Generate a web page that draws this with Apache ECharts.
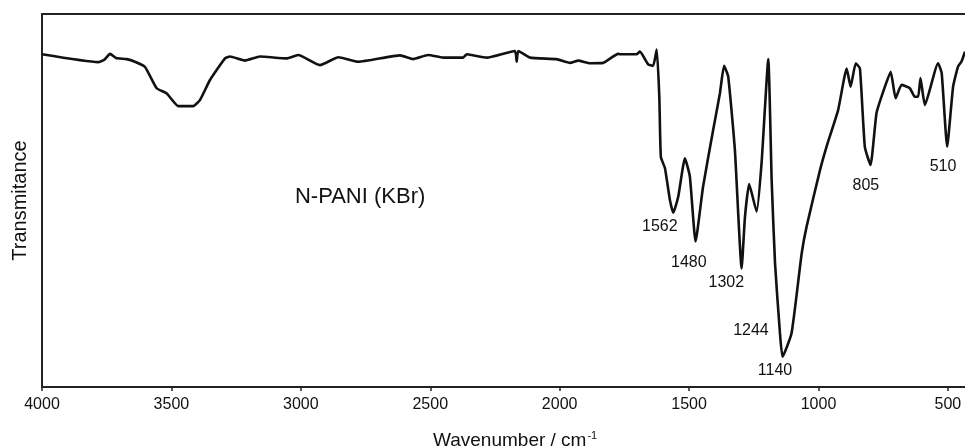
<!DOCTYPE html>
<html>
<head>
<meta charset="utf-8">
<script src="https://cdn.jsdelivr.net/npm/echarts@6/dist/echarts.min.js"></script>
<style>
html,body{margin:0;padding:0;background:#fff;}
#chart{width:965px;height:447px;}
</style>
</head>
<body>
<div id="chart"></div>
<script>
// Spectrum: wavenumber (cm-1) and transmittance (arbitrary units)
var wavenumber = [4000,3783,3760,3737,3714,3673,3641,3602,3557,3518,3473,3416,3390,3351,3293,3274,3216,3158,3055,3010,2926,2855,2778,2617,2566,2508,2450,2373,2359,2282,2173,2166,2160,2115,2012,1960,1928,1883,1832,1774,1767,1703,1690,1658,1639,1625,1615,1609,1593,1574,1561,1542,1516,1497,1475,1446,1407,1381,1365,1349,1323,1297,1284,1268,1239,1220,1194,1181,1168,1149,1139,1104,1065,1046,994,969,924,891,876,856,840,821,799,776,750,721,702,679,647,628,615,606,589,538,524,503,480,461,448,434];
var transmittance = [89.2,87.1,87.7,89.3,88.2,87.9,87.2,85.8,80.1,78.7,75.3,75.3,76.9,82.3,88.1,88.6,87.5,88.6,88.1,89.0,86.3,88.4,87.2,88.9,87.9,89.0,88.3,88.3,89.2,88.3,90.1,87.2,90.1,88.3,87.9,86.9,87.5,86.8,86.9,89.3,89.2,89.2,89.9,86.5,86.1,90.5,77.8,61.7,58.6,50.1,46.7,51.0,61.3,56.4,39.0,53.7,68.9,78.7,86.1,83.3,63.5,31.8,45.7,54.4,47.0,60.0,87.9,55.5,33.2,14.5,8.1,14.5,35.8,43.0,58.2,64.4,74.3,85.4,80.5,86.8,85.4,64.4,59.5,73.4,79.2,84.5,77.4,81.0,80.1,77.8,77.8,82.8,75.6,86.8,84.1,64.4,80.5,85.9,87.2,89.9];

// Peak annotations
var peakLabels = ['1562','1480','1302','1244','1140','805','510'];
var peakLabelX = [1613,1501,1356,1261,1168,817,519];
var peakLabelY = [43.0,33.4,28.0,15.0,4.3,53.9,59.1];

var sampleLabel = 'N-PANI (KBr)';
var sampleLabelX = 2771;
var sampleLabelY = 50.9;

var xTicks = [4000,3500,3000,2500,2000,1500,1000,500];

var specData = wavenumber.map(function(w,i){return [w, transmittance[i]];});
var peakData = peakLabels.map(function(t,i){return {name:t, value:[peakLabelX[i], peakLabelY[i]]};});

var FONT = 'Liberation Sans, Arial, sans-serif';
var chart = echarts.init(document.getElementById('chart'), null, {renderer:'canvas'});
chart.setOption({
  animation:false,
  backgroundColor:'#fff',
  textStyle:{fontFamily:FONT},
  grid:{left:42, right:0, top:14, bottom:60, containLabel:false, outerBoundsMode:'none'},
  title:{
    text:'{a|Wavenumber / cm}{b|-1}',
    left:428, top:425,
    textStyle:{
      fontWeight:'normal',
      rich:{
        a:{fontSize:19, color:'#111', fontFamily:FONT, fontWeight:'normal'},
        b:{fontSize:11, color:'#111', fontFamily:FONT, fontWeight:'normal', padding:[0,0,10,1]}
      }
    }
  },
  xAxis:[{
    type:'value', inverse:true, min:434, max:4000,
    axisLine:{show:true, lineStyle:{color:'#222', width:2}},
    axisTick:{show:true, customValues:xTicks, length:4, lineStyle:{color:'#222', width:1.5}},
    axisLabel:{show:true, customValues:xTicks, fontSize:16, color:'#111', margin:10, fontFamily:FONT,
      formatter:function(v){return String(v);}},
    splitLine:{show:false}
  },{
    type:'value', inverse:true, min:434, max:4000, position:'top',
    axisLine:{show:true, lineStyle:{color:'#222', width:2}},
    axisTick:{show:false}, axisLabel:{show:false}, splitLine:{show:false}
  }],
  yAxis:{
    type:'value', min:0, max:100,
    name:'Transmitance', nameLocation:'middle', nameGap:12, nameRotate:90,
    nameTextStyle:{fontSize:20, color:'#111', fontFamily:FONT},
    axisLine:{show:true, lineStyle:{color:'#222', width:2}},
    axisTick:{show:false}, axisLabel:{show:false}, splitLine:{show:false}
  },
  series:[{
    type:'line', data:specData, showSymbol:false, smooth:0.15,
    lineStyle:{color:'#111', width:2.6}, z:3
  },{
    type:'scatter', data:peakData, symbolSize:0, itemStyle:{opacity:1},
    label:{show:true, position:'inside', formatter:'{b}', fontSize:16, color:'#111', opacity:1, fontFamily:FONT},
    z:4
  },{
    type:'scatter', data:[{name:sampleLabel, value:[sampleLabelX, sampleLabelY]}], symbolSize:0, itemStyle:{opacity:1},
    label:{show:true, position:'inside', formatter:'{b}', fontSize:22, color:'#111', opacity:1, fontFamily:FONT},
    z:4
  }]
});
</script>
</body>
</html>
